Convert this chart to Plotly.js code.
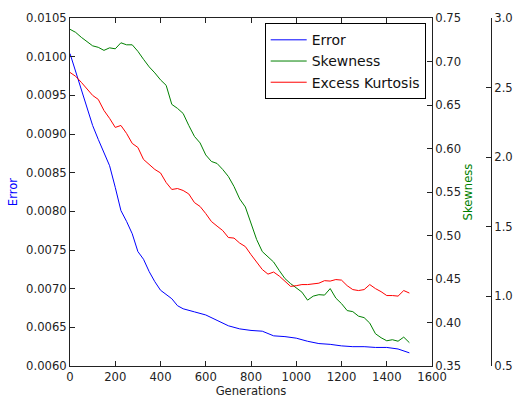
<!DOCTYPE html>
<html>
<head>
<meta charset="utf-8">
<script src="https://cdn.plot.ly/plotly-3.0.1.min.js"></script>
<style>html,body{margin:0;padding:0;background:#fff;}#chart{width:517px;height:399px;}</style>
</head>
<body>
<div id="chart"></div>
<script>
// Generations sampled for skewness & kurtosis
const generations = [0,25,50,75,100,125,150,175,200,225,250,275,300,325,350,375,400,425,450,475,500,525,550,575,600,625,650,675,700,725,750,775,800,825,850,875,900,925,950,975,1000,1025,1050,1075,1100,1125,1150,1175,1200,1225,1250,1275,1300,1325,1350,1375,1400,1425,1450,1475,1500];
const skewness = [0.737,0.7335,0.7278,0.7226,0.718,0.7163,0.7128,0.7157,0.7146,0.7215,0.7192,0.7192,0.7117,0.7025,0.6938,0.6869,0.6789,0.6726,0.6507,0.6461,0.6403,0.6265,0.6139,0.6064,0.5926,0.5851,0.5828,0.5759,0.5678,0.5563,0.542,0.5328,0.5149,0.4953,0.4815,0.4758,0.4695,0.4597,0.4505,0.4447,0.4395,0.4349,0.4257,0.4303,0.432,0.4315,0.439,0.428,0.4217,0.4137,0.4125,0.4073,0.4056,0.3993,0.3871,0.3825,0.379,0.3802,0.3785,0.3832,0.3768];
const kurtosis = [2.609,2.581,2.538,2.487,2.444,2.415,2.336,2.279,2.214,2.228,2.171,2.099,2.07,1.984,1.948,1.912,1.887,1.818,1.768,1.775,1.761,1.736,1.674,1.646,1.595,1.538,1.505,1.473,1.423,1.419,1.383,1.358,1.300,1.243,1.193,1.160,1.175,1.146,1.108,1.072,1.077,1.085,1.085,1.092,1.095,1.113,1.110,1.121,1.117,1.077,1.049,1.042,1.049,1.085,1.056,1.034,1.006,1.006,1.002,1.042,1.024];
// Generations sampled for error
const errorGenerations = [0,25,50,75,100,125,150,175,200,225,250,275,300,325,350,375,400,425,450,475,500,550,600,650,700,750,800,850,900,950,1000,1050,1100,1150,1200,1250,1300,1350,1400,1450,1500];
const errorValues = [0.01004,0.00981,0.00960,0.00936,0.00911,0.00893,0.00877,0.00859,0.00831,0.00801,0.00787,0.00771,0.00748,0.00738,0.00722,0.00709,0.00698,0.00693,0.00687,0.00678,0.00674,0.00670,0.00666,0.00659,0.00652,0.00648,0.00646,0.00645,0.00639,0.00638,0.00636,0.00632,0.00629,0.00628,0.00626,0.00625,0.00625,0.00624,0.00624,0.00622,0.00617];

const seriesNames = ['Error','Skewness','Excess Kurtosis'];
const xTitle = 'Generations';

const FONT = 'DejaVu Sans, sans-serif';
const axisCol = '#222222';

const traces = [
  {x: errorGenerations, y: errorValues, name: seriesNames[0], type:'scatter', mode:'lines', line:{color:'#0000ff', width:1}, yaxis:'y'},
  {x: generations, y: skewness, name: seriesNames[1], type:'scatter', mode:'lines', line:{color:'#008000', width:1}, yaxis:'y2'},
  {x: generations, y: kurtosis, name: seriesNames[2], type:'scatter', mode:'lines', line:{color:'#ff0000', width:1}, yaxis:'y3'}
];

const common = {
  showgrid:false, zeroline:false, showline:true, linecolor:axisCol, linewidth:1,
  ticks:'inside', ticklen:5, tickcolor:axisCol, tickwidth:1,
  tickfont:{family:FONT, size:11.6, color:'#222'}
};

const layout = {
  width:517, height:399,
  margin:{l:70, r:20, t:18, b:33, pad:0},
  paper_bgcolor:'#fff', plot_bgcolor:'#fff',
  font:{family:FONT, size:11.6, color:'#222'},
  showlegend:true,
  legend:{x:0.833, xanchor:'right', y:0.985, yanchor:'top', itemwidth:36, bgcolor:'#fff', bordercolor:'#000', borderwidth:1, font:{family:FONT, size:14, color:'#111'}},
  xaxis: Object.assign({}, common, {
    domain:[0, 362/427], range:[0,1600], dtick:200, tick0:0, mirror:'ticks',
    title:{text:xTitle, font:{family:FONT, size:11.6, color:'#222'}, standoff:2}
  }),
  yaxis: Object.assign({}, common, {
    range:[0.006,0.0105], dtick:0.0005, tick0:0.006, tickformat:'.4f',
    title:{text:seriesNames[0], font:{family:FONT, size:11.6, color:'#0000ff'}, standoff:6}
  }),
  yaxis2: Object.assign({}, common, {
    overlaying:'y', side:'right', anchor:'x',
    range:[0.35,0.75], dtick:0.05, tick0:0.35, tickformat:'.2f',
    title:{text:seriesNames[1], font:{family:FONT, size:11.6, color:'#008000'}, standoff:3}
  }),
  yaxis3: Object.assign({}, common, {
    overlaying:'y', side:'right', anchor:'free', position:(491-70)/427,
    range:[0.5,3.0], dtick:0.5, tick0:0.5, tickformat:'.1f'
  })
};

Plotly.newPlot('chart', traces, layout, {displayModeBar:false, staticPlot:true});
</script>
</body>
</html>
